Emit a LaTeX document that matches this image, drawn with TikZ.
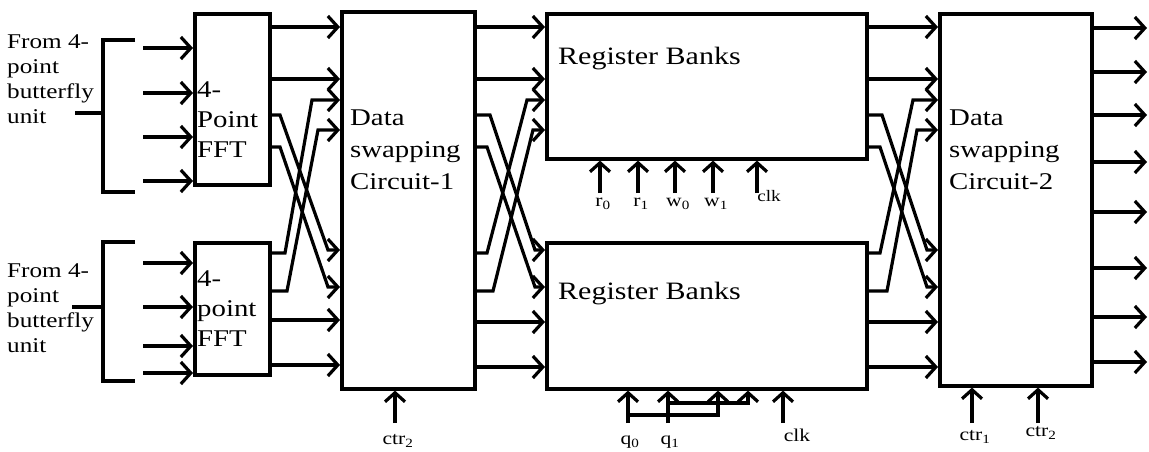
\documentclass[tikz,border=0pt]{standalone}
\usepackage{fontspec}
\setmainfont{Liberation Serif}
\newfontfamily\wf[FakeStretch=1.2]{Liberation Serif}
\usetikzlibrary{arrows.meta}
\begin{document}
\begin{tikzpicture}[x=1pt,y=-1pt,line join=miter,
  box/.style={draw,line width=3.6pt,inner sep=0pt,anchor=north west},
  wire/.style={line width=3.2pt},
  arr/.style={line width=3.2pt,-{Straight Barb[length=10pt,width=22pt]}},
  ctl/.style={line width=3.2pt,-{Straight Barb[length=9pt,width=20pt]}},
  txt/.style={inner sep=0pt,anchor=north west,align=left},
  lab/.style={inner sep=0pt,font=\fontsize{18}{20}\selectfont\wf}]
\useasboundingbox (0,0) rectangle (1149,452);
% boxes
\node[box,minimum width=75pt,minimum height=171pt] (fft1) at (193,12) {};
\node[box,minimum width=75pt,minimum height=132pt] (fft2) at (193,241) {};
\node[box,minimum width=133pt,minimum height=377pt] (ds1) at (340,10) {};
\node[box,minimum width=320pt,minimum height=145pt] (rb1) at (545,12) {};
\node[box,minimum width=320pt,minimum height=146pt] (rb2) at (545,241) {};
\node[box,minimum width=152pt,minimum height=372pt] (ds2) at (938,12) {};
% texts
\node[txt,font=\fontsize{21}{25}\selectfont\wf] (src1) at (7,34) {From 4-\\point\\butterfly\\unit};
\node[txt,font=\fontsize{21}{25}\selectfont\wf] (src2) at (7,263) {From 4-\\point\\butterfly\\unit};
\node[txt,font=\fontsize{24}{30}\selectfont\wf] (t1) at (197,82) {4-\\Point\\FFT};
\node[txt,font=\fontsize{24}{30}\selectfont\wf] (t2) at (197,271) {4-\\point\\FFT};
\node[txt,font=\fontsize{24}{32}\selectfont\wf] (t3) at (350,110) {Data\\swapping\\Circuit-1};
\node[txt,font=\fontsize{24}{32}\selectfont\wf] (t6) at (949,110) {Data\\swapping\\Circuit-2};
\node[txt,font=\fontsize{25}{30}\selectfont\wf] (t4) at (558,47) {Register Banks};
\node[txt,font=\fontsize{25}{30}\selectfont\wf] (t5) at (558,282) {Register Banks};
% brackets
\draw[line width=3.6pt] (135,40) -- (103,40) -- (103,192) -- (135,192);
\draw[line width=3.6pt] (75,113) -- (103,113);
\draw[line width=3.6pt] (135,242) -- (103,242) -- (103,381) -- (135,381);
\draw[line width=3.6pt] (72,307) -- (103,307);
% inputs to FFTs
\foreach \y [count=\i] in {48,93,137,181} {
  \coordinate (ia\i) at (143,\y);
  \draw[arr] (ia\i) -- (ia\i -| fft1.west);}
\foreach \y [count=\i] in {263,307,346,373} {
  \coordinate (ib\i) at (143,\y);
  \draw[arr] (ib\i) -- (ib\i -| fft2.west);}
% stage A: FFT -> DS1
\foreach \y in {27,79} \draw[arr] (fft1.east |- 0,\y) -- (ds1.west |- 0,\y);
\foreach \y in {320,365} \draw[arr] (fft2.east |- 0,\y) -- (ds1.west |- 0,\y);
\draw[arr] (fft1.east |- 0,115) -- (280,115) -- (328,250) -- (ds1.west |- 0,250);
\draw[arr] (fft1.east |- 0,147) -- (280,147) -- (328,287) -- (ds1.west |- 0,287);
\draw[arr] (fft2.east |- 0,253) -- (285,253) -- (312,100) -- (ds1.west |- 0,100);
\draw[arr] (fft2.east |- 0,291) -- (287,291) -- (318,130) -- (ds1.west |- 0,130);
% stage B: DS1 -> RB
\foreach \y in {27,79} \draw[arr] (ds1.east |- 0,\y) -- (rb1.west |- 0,\y);
\foreach \y in {322,367} \draw[arr] (ds1.east |- 0,\y) -- (rb2.west |- 0,\y);
\draw[arr] (ds1.east |- 0,115) -- (490,115) -- (535,250) -- (rb2.west |- 0,250);
\draw[arr] (ds1.east |- 0,147) -- (487,147) -- (535,287) -- (rb2.west |- 0,287);
\draw[arr] (ds1.east |- 0,253) -- (487,253) -- (527,100) -- (rb1.west |- 0,100);
\draw[arr] (ds1.east |- 0,291) -- (493,291) -- (533,130) -- (rb1.west |- 0,130);
% stage C: RB -> DS2
\foreach \y in {27,79} \draw[arr] (rb1.east |- 0,\y) -- (ds2.west |- 0,\y);
\foreach \y in {322,367} \draw[arr] (rb2.east |- 0,\y) -- (ds2.west |- 0,\y);
\draw[arr] (rb1.east |- 0,115) -- (882,115) -- (927,250) -- (ds2.west |- 0,250);
\draw[arr] (rb1.east |- 0,147) -- (880,147) -- (927,287) -- (ds2.west |- 0,287);
\draw[arr] (rb2.east |- 0,253) -- (880,253) -- (913,100) -- (ds2.west |- 0,100);
\draw[arr] (rb2.east |- 0,291) -- (887,291) -- (917,130) -- (ds2.west |- 0,130);
% outputs of DS2
\foreach \y [count=\i] in {28,72,115,162,212,268,317,362} {
  \coordinate (out\i) at (1147,\y);
  \draw[arr] (ds2.east |- out\i) -- (out\i);}
% controls of RB1
\foreach \x/\t [count=\i] in {600/r\textsubscript{0},638/r\textsubscript{1},675/w\textsubscript{0},713/w\textsubscript{1}} {
  \coordinate (ca\i) at (\x,193);
  \draw[ctl] (ca\i) -- (ca\i |- rb1.south);
  \node[lab] (la\i) at (\x+3,204) {\t};}
\coordinate (ca5) at (757,193);
\draw[ctl] (ca5) -- (ca5 |- rb1.south);
\node[lab,font=\fontsize{16}{18}\selectfont\wf] (la5) at (769,196) {clk};
% controls of RB2
\coordinate (q0) at (628,423);
\coordinate (q1) at (668,423);
\coordinate (ck) at (783,423);
\draw[ctl] (q0) -- (q0 |- rb2.south);
\draw[ctl] (q1) -- (q1 |- rb2.south);
\draw[ctl] (ck) -- (ck |- rb2.south);
\coordinate (qa) at (718,415);
\coordinate (qb) at (748,403);
\draw[ctl] (q0 |- qa) -- (qa) -- (qa |- rb2.south);
\draw[ctl] (q1 |- qb) -- (qb) -- (qb |- rb2.south);
\node[lab] (lq0) at (630,442) {q\textsubscript{0}};
\node[lab] (lq1) at (670,442) {q\textsubscript{1}};
\node[lab] (lck) at (797,435) {clk};
% controls of DS1 / DS2
\coordinate (c1) at (395,423);
\draw[ctl] (c1) -- (c1 |- ds1.south);
\node[lab] (lc1) at (398,441) {ctr\textsubscript{2}};
\coordinate (c2) at (972,423);
\draw[ctl] (c2) -- (c2 |- ds2.south);
\node[lab] (lc2) at (975,437) {ctr\textsubscript{1}};
\coordinate (c3) at (1038,423);
\draw[ctl] (c3) -- (c3 |- ds2.south);
\node[lab] (lc3) at (1041,433) {ctr\textsubscript{2}};
\end{tikzpicture}
\end{document}
